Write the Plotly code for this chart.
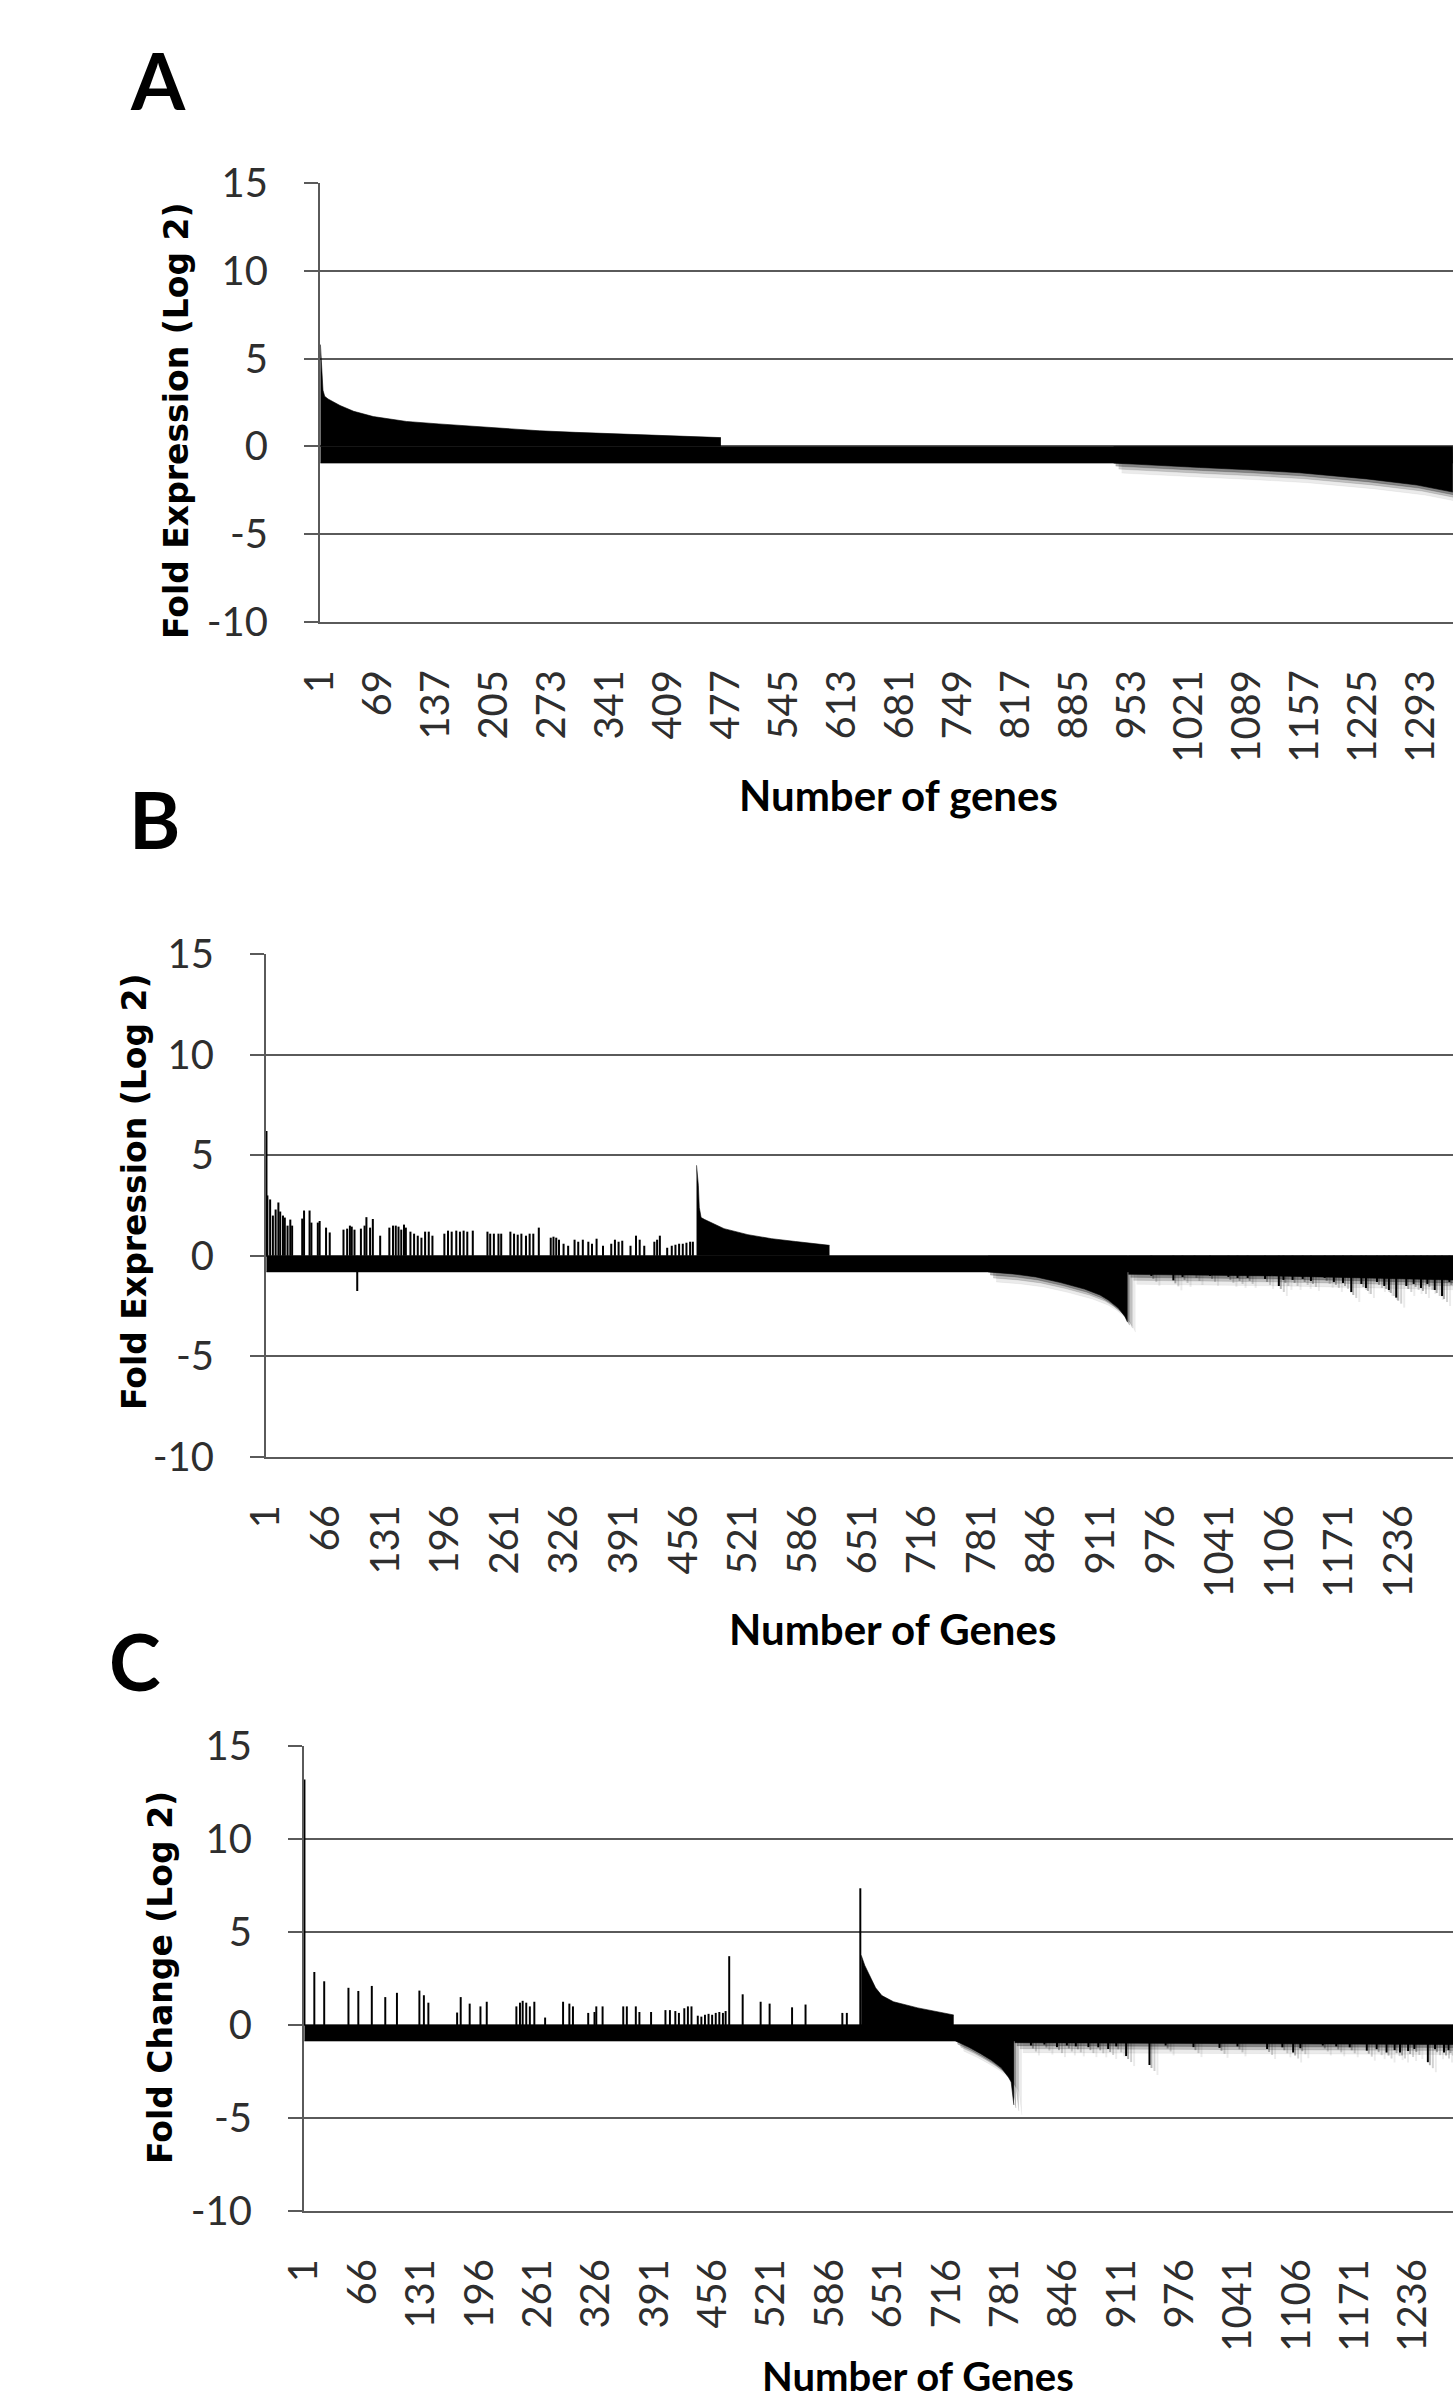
import plotly.graph_objects as go

W, H = 1453, 2403

# ---------------- tick labels ----------------
Y_TICKS = [-10, -5, 0, 5, 10, 15]
Y_TICKTEXT = ["-10", "-5", "0", "5", "10", "15"]
A_XTICKS = [1, 69, 137, 205, 273, 341, 409, 477, 545, 613, 681, 749, 817, 885,
            953, 1021, 1089, 1157, 1225, 1293]
B_XTICKS = [1, 66, 131, 196, 261, 326, 391, 456, 521, 586, 651, 716, 781, 846,
            911, 976, 1041, 1106, 1171, 1236]
C_XTICKS = [1, 66, 131, 196, 261, 326, 391, 456, 521, 586, 651, 716, 781, 846,
            911, 976, 1041, 1106, 1171, 1236]

# ---------------- panel A data (gene index, log2 fold) ----------------
A_BAND = [(1, -0.95), (1330, -0.95)]
A_POS = [(1, 5.8), (2, 5.0), (3, 3.9), (4, 3.2), (6, 2.85), (10, 2.7), (24, 2.33),
         (40, 2.0), (63, 1.7), (102, 1.42), (140, 1.28), (180, 1.14), (220, 1.02),
         (258, 0.89), (300, 0.8), (350, 0.72), (400, 0.64), (440, 0.58), (471, 0.5)]
A_NEG = [(932, -0.95), (980, -1.08), (1033, -1.2), (1090, -1.33), (1150, -1.5),
         (1229, -1.85), (1288, -2.2), (1330, -2.6)]

# ---------------- panel B data ----------------
B_BAND = [(1, -0.8), (1295, -0.8)]
B_SPIKES = [(1, 6.2), (2, 3.0), (5, 2.8), (8, 2.0), (11, 2.3), (14, 2.65), (16, 2.2), (19, 2.0),
            (21, 1.9), (24, 1.5), (27, 1.8), (29, 1.5), (40, 1.85), (42, 2.25), (48, 2.25),
            (50, 1.65), (57, 1.65), (59, 1.73), (66, 1.4), (70, 1.16), (85, 1.3), (89, 1.35),
            (92, 1.5), (94, 1.45), (97, 1.3), (100, -1.75), (104, 1.35), (108, 1.5),
            (110, 1.92), (114, 1.4), (117, 1.83), (125, 1.0), (135, 1.4), (139, 1.5),
            (142, 1.5), (145, 1.45), (148, 1.3), (151, 1.55), (153, 1.4), (158, 1.2),
            (162, 1.1), (166, 1.0), (170, 0.9), (174, 1.2), (178, 1.2), (182, 1.0),
            (195, 1.1), (199, 1.25), (203, 1.2), (208, 1.25), (212, 1.2), (216, 1.25),
            (220, 1.2), (226, 1.25), (242, 1.2), (245, 1.1), (249, 1.1), (254, 1.1),
            (257, 1.1), (267, 1.2), (271, 1.1), (275, 1.05), (279, 1.1), (284, 1.0),
            (288, 1.1), (292, 1.1), (298, 1.4), (311, 0.9), (314, 0.95), (317, 0.9),
            (320, 0.8), (325, 0.6), (330, 0.5), (337, 0.8), (341, 0.7), (346, 0.8),
            (352, 0.7), (356, 0.6), (361, 0.85), (368, 0.5), (377, 0.6), (381, 0.8),
            (385, 0.7), (389, 0.75), (398, 0.5), (404, 1.0), (408, 0.8), (413, 0.5),
            (424, 0.7), (427, 0.8), (430, 1.0), (438, 0.4), (443, 0.5), (447, 0.55),
            (451, 0.6), (455, 0.6), (459, 0.65), (463, 0.7), (466, 0.7)]
B_POS = [(470, 4.5), (472, 3.5), (473, 2.4), (475, 1.9), (479, 1.8), (490, 1.55),
         (500, 1.35), (526, 1.05), (552, 0.85), (578, 0.71), (615, 0.52)]
B_NEG = [(788, -0.8), (815, -0.9), (840, -1.05), (867, -1.33), (893, -1.65),
         (910, -1.95), (919, -2.2), (930, -2.6), (937, -3.0), (940, -3.3)]
B_TAIL = [(941, -0.92), (1100, -1.0), (1200, -1.1), (1295, -1.2)]
B_TAIL_SPIKES = [(966, -1.0), (990, -1.22), (1000, -1.05), (1013, -0.95), (1030, -1.0),
                 (1050, -1.05), (1060, -1.1), (1071, -1.1), (1090, -1.15), (1105, -1.5),
                 (1110, -1.2), (1120, -1.2), (1131, -1.15), (1140, -1.25), (1155, -1.1),
                 (1165, -1.3), (1175, -1.35), (1184, -1.8), (1195, -1.4), (1200, -1.6),
                 (1212, -1.3), (1220, -1.5), (1225, -1.7), (1233, -2.08), (1244, -1.5),
                 (1252, -1.4), (1260, -1.6), (1267, -1.4), (1275, -1.7), (1283, -2.0),
                 (1291, -1.3)]

# ---------------- panel C data ----------------
C_BAND = [(1, -0.86), (1280, -0.86)]
C_SPIKES = [(1, 13.2), (12, 2.85), (23, 2.35), (50, 2.0), (61, 1.83), (76, 2.1), (91, 1.5),
            (104, 1.73), (129, 1.85), (134, 1.6), (139, 1.2), (171, 0.67), (175, 1.5),
            (185, 1.15), (197, 1.0), (204, 1.25), (237, 1.0), (241, 1.2), (244, 1.3),
            (248, 1.2), (252, 1.0), (257, 1.25), (269, 0.4), (289, 1.25), (296, 1.15),
            (300, 1.0), (317, 0.65), (324, 0.7), (326, 1.0), (333, 1.0), (356, 1.0),
            (360, 1.0), (370, 1.0), (374, 0.7), (387, 0.7), (403, 0.8), (408, 0.8),
            (414, 0.75), (418, 0.65), (424, 0.9), (428, 1.0), (432, 1.0), (439, 0.5),
            (443, 0.45), (447, 0.55), (451, 0.6), (455, 0.55), (459, 0.65), (463, 0.7),
            (467, 0.65), (470, 0.75), (474, 3.7), (489, 1.65), (509, 1.25), (519, 1.15),
            (544, 0.95), (559, 1.1), (600, 0.65), (605, 0.65), (620, 7.35)]
C_POS = [(621, 3.75), (625, 3.2), (630, 2.7), (637, 2.0), (644, 1.58), (657, 1.25),
         (684, 0.92), (710, 0.65), (724, 0.54)]
C_NEG = [(726, -0.86), (741, -1.2), (754, -1.54), (766, -1.9), (777, -2.3),
         (785, -2.8), (788, -3.07), (791, -4.3)]
C_TAIL = [(792, -0.95), (1000, -1.0), (1280, -1.05)]
C_TAIL_SPIKES = [(810, -1.1), (825, -1.05), (839, -1.19), (850, -1.1), (860, -1.15),
                 (874, -1.19), (885, -1.2), (896, -1.29), (905, -1.15), (916, -1.67),
                 (942, -2.15), (960, -1.1), (991, -1.19), (1020, -1.23), (1040, -1.15),
                 (1073, -1.29), (1090, -1.2), (1102, -1.48), (1110, -1.25), (1135, -1.1),
                 (1150, -1.15), (1165, -1.2), (1184, -1.38), (1195, -1.3), (1206, -1.48),
                 (1215, -1.35), (1221, -1.48), (1230, -1.4), (1237, -1.29), (1252, -2.0),
                 (1260, -1.3), (1270, -1.48), (1275, -1.35)]

# ---------------- styling / geometry ----------------
GRID = "#5a5a5a"
TICK_FONT = "Lato, 'Open Sans', sans-serif"
TITLE_FONT = "'DejaVu Sans', Verdana, sans-serif"


def px_x(p):
    return p / W


def px_y(p):
    return 1 - p / H


panels = [
    dict(letter="A", left=320, top=183, bottom=622, ppg=0.852, ticks=A_XTICKS,
         ytitle="Fold Expression (Log 2)", ytx=176, yty=421,
         xtitle="Number of genes", xtx=899, xty=795, xts=42, lx=158, ly=80,
         band=A_BAND, spikes=[], pos=A_POS, neg=A_NEG, tail=[], tail_spikes=[]),
    dict(letter="B", left=266, top=954, bottom=1457, ppg=0.917, ticks=B_XTICKS,
         ytitle="Fold Expression (Log 2)", ytx=134, yty=1192,
         xtitle="Number of Genes", xtx=892, xty=1629, xts=42, lx=154, ly=819,
         band=B_BAND, spikes=B_SPIKES, pos=B_POS, neg=B_NEG, tail=B_TAIL,
         tail_spikes=B_TAIL_SPIKES),
    dict(letter="C", left=304, top=1746, bottom=2211, ppg=0.898, ticks=C_XTICKS,
         ytitle="Fold Change (Log 2)", ytx=160, yty=1978,
         xtitle="Number of Genes", xtx=918, xty=2376, xts=40, lx=135, ly=1661,
         band=C_BAND, spikes=C_SPIKES, pos=C_POS, neg=C_NEG, tail=C_TAIL,
         tail_spikes=C_TAIL_SPIKES),
]

SHADOWS = [(2, 3, "rgba(0,0,0,0.30)"), (5, 6, "rgba(0,0,0,0.18)"), (8, 10, "rgba(0,0,0,0.08)")]

fig = go.Figure()
layout = dict(
    width=W, height=H, autosize=False,
    margin=dict(l=0, r=0, t=0, b=0, pad=0, autoexpand=False),
    paper_bgcolor="white", plot_bgcolor="white",
    showlegend=False, barmode="overlay",
    annotations=[],
)


def unzip(pairs):
    return [p[0] for p in pairs], [p[1] for p in pairs]


def add_fill(pairs, xa, ya, color):
    if not pairs:
        return
    xs, ys = unzip(pairs)
    fig.add_trace(go.Scatter(x=xs, y=ys, mode="lines", fill="tozeroy",
                             fillcolor=color, line=dict(width=0.6, color=color),
                             xaxis=xa, yaxis=ya, hoverinfo="skip"))


def add_bars(pairs, xa, ya, color, width):
    if not pairs:
        return
    xs, ys = unzip(pairs)
    fig.add_trace(go.Bar(x=xs, y=ys, width=width, marker=dict(color=color, line=dict(width=0)),
                         xaxis=xa, yaxis=ya, hoverinfo="skip"))


next_axis = 4
for i, p in enumerate(panels):
    n = "" if i == 0 else str(i + 1)
    xa, ya = "x" + n, "y" + n
    xdom = [px_x(p["left"]), 1.0]
    ydom = [px_y(p["bottom"]), px_y(p["top"])]
    x0 = 0.5
    x1 = 0.5 + (W - p["left"]) / p["ppg"]
    plot_h = p["bottom"] - p["top"]

    layout["xaxis" + n] = dict(
        domain=xdom, range=[x0, x1], anchor=ya, showgrid=False, zeroline=False,
        showline=True, linecolor=GRID, linewidth=2, ticks="", automargin=False,
        tickmode="array", tickvals=p["ticks"], ticktext=[str(t) for t in p["ticks"]],
        tickangle=-90, tickfont=dict(family=TICK_FONT, size=40, color="#2e2e2e"),
        ticklabelstandoff=30, fixedrange=True,
    )
    layout["yaxis" + n] = dict(
        domain=ydom, range=[-10, 15], anchor=xa, showgrid=True, gridcolor=GRID,
        gridwidth=2, zeroline=False, showline=True, linecolor=GRID, linewidth=2,
        ticks="outside", ticklen=14, tickwidth=2, tickcolor=GRID, automargin=False,
        tickmode="array", tickvals=Y_TICKS, ticktext=Y_TICKTEXT,
        tickfont=dict(family=TICK_FONT, size=40, color="#2e2e2e"),
        ticklabelstandoff=28, fixedrange=True,
    )

    # shadow layers (drop shadow of the down-regulated bars)
    for dx, dy, col in SHADOWS:
        sn = str(next_axis)
        next_axis += 1
        dg = dx / p["ppg"]
        dv = dy * 25.0 / plot_h
        layout["xaxis" + sn] = dict(domain=xdom, range=[x0 - dg, x1 - dg], overlaying=xa,
                                    anchor="y" + sn, visible=False, fixedrange=True)
        layout["yaxis" + sn] = dict(domain=ydom, range=[-10 + dv, 15 + dv], overlaying=ya,
                                    anchor="x" + sn, visible=False, fixedrange=True)
        add_fill(p["neg"], "x" + sn, "y" + sn, col)
        add_fill(p["tail"], "x" + sn, "y" + sn, col)
        add_bars(p["tail_spikes"], "x" + sn, "y" + sn, col, 2.2)

    # main marks
    add_fill(p["band"], xa, ya, "black")
    add_fill(p["pos"], xa, ya, "black")
    add_fill(p["neg"], xa, ya, "black")
    add_fill(p["tail"], xa, ya, "black")
    add_bars(p["spikes"], xa, ya, "black", 2.2)
    add_bars(p["tail_spikes"], xa, ya, "black", 2.2)

    # texts
    layout["annotations"] += [
        dict(text=p["letter"], x=px_x(p["lx"]), y=px_y(p["ly"]), xref="paper", yref="paper",
             xanchor="center", yanchor="middle", showarrow=False, borderpad=0,
             font=dict(family=TICK_FONT, size=78, color="black", weight="bold")),
        dict(text=p["ytitle"], x=px_x(p["ytx"]), y=px_y(p["yty"]), xref="paper", yref="paper",
             xanchor="center", yanchor="middle", showarrow=False, textangle=-90, borderpad=0,
             font=dict(family=TITLE_FONT, size=33, color="black", weight="bold")),
        dict(text=p["xtitle"], x=px_x(p["xtx"]), y=px_y(p["xty"]), xref="paper", yref="paper",
             xanchor="center", yanchor="middle", showarrow=False, borderpad=0,
             font=dict(family=TICK_FONT, size=p["xts"], color="black", weight="bold")),
    ]

fig.update_layout(**layout)
fig.write_html(
    "out.html",
    config=dict(displayModeBar=False, staticPlot=True),
    post_script="document.documentElement.style.margin='0';"
                "document.body.style.margin='0';"
                "document.body.style.overflow='hidden';",
)
